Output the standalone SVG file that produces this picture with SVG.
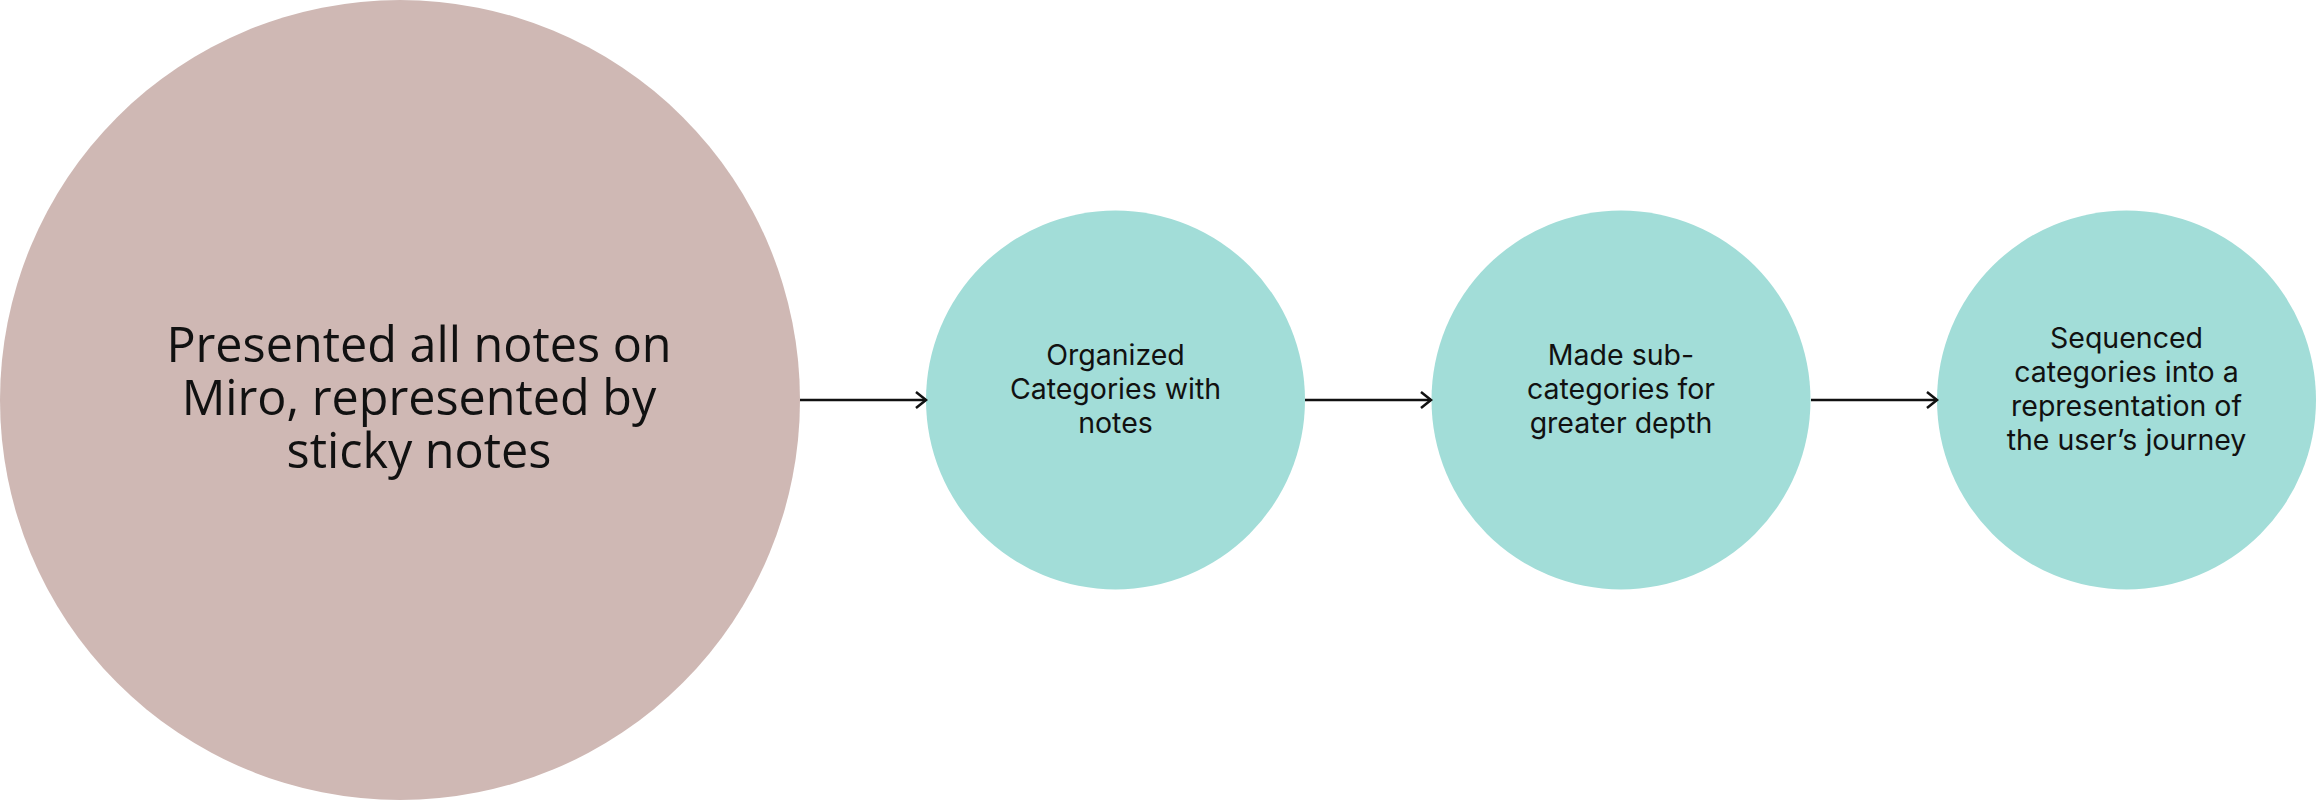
<svg xmlns="http://www.w3.org/2000/svg" width="2317" height="800" viewBox="0 0 2317 800">
<style>
.big{font-family:"Open Sans",sans-serif;font-size:48.5px;fill:#111;text-anchor:middle}
.sm{font-family:Inter,sans-serif;font-size:28.5px;fill:#111;text-anchor:middle}
.ln{stroke:#111;stroke-width:2.5;fill:none}
</style>
<defs><marker id="ah" markerWidth="14" markerHeight="20" refX="12" refY="10" orient="auto" markerUnits="userSpaceOnUse"><path d="M2,2 L12,10 L2,18" fill="none" stroke="#111" stroke-width="2.5"/></marker></defs>
<rect width="2317" height="800" fill="#fff"/>
<g id="n1"><circle cx="400" cy="400" r="400" fill="#CFB8B4"/>
<text class="big" x="419" y="362">Presented all notes on</text>
<text class="big" x="419" y="415">Miro, represented by</text>
<text class="big" x="419" y="468">sticky notes</text></g>
<g id="n2"><circle cx="1115.5" cy="400" r="189.5" fill="#A2DDD8"/>
<text class="sm" x="1115.5" y="365">Organized</text>
<text class="sm" x="1115.5" y="399">Categories with</text>
<text class="sm" x="1115.5" y="433">notes</text></g>
<g id="n3"><circle cx="1621" cy="400" r="189.5" fill="#A2DDD8"/>
<text class="sm" x="1621" y="365">Made sub-</text>
<text class="sm" x="1621" y="399">categories for</text>
<text class="sm" x="1621" y="433">greater depth</text></g>
<g id="n4"><circle cx="2126.5" cy="400" r="189.5" fill="#A2DDD8"/>
<text class="sm" x="2126.5" y="348">Sequenced</text>
<text class="sm" x="2126.5" y="382">categories into a</text>
<text class="sm" x="2126.5" y="416">representation of</text>
<text class="sm" x="2126.5" y="450">the user’s journey</text></g>
<g id="connectors">
<line class="ln" x1="800" y1="400" x2="926" y2="400" marker-end="url(#ah)"/>
<line class="ln" x1="1305" y1="400" x2="1431" y2="400" marker-end="url(#ah)"/>
<line class="ln" x1="1811" y1="400" x2="1937" y2="400" marker-end="url(#ah)"/>
</g>
</svg>
